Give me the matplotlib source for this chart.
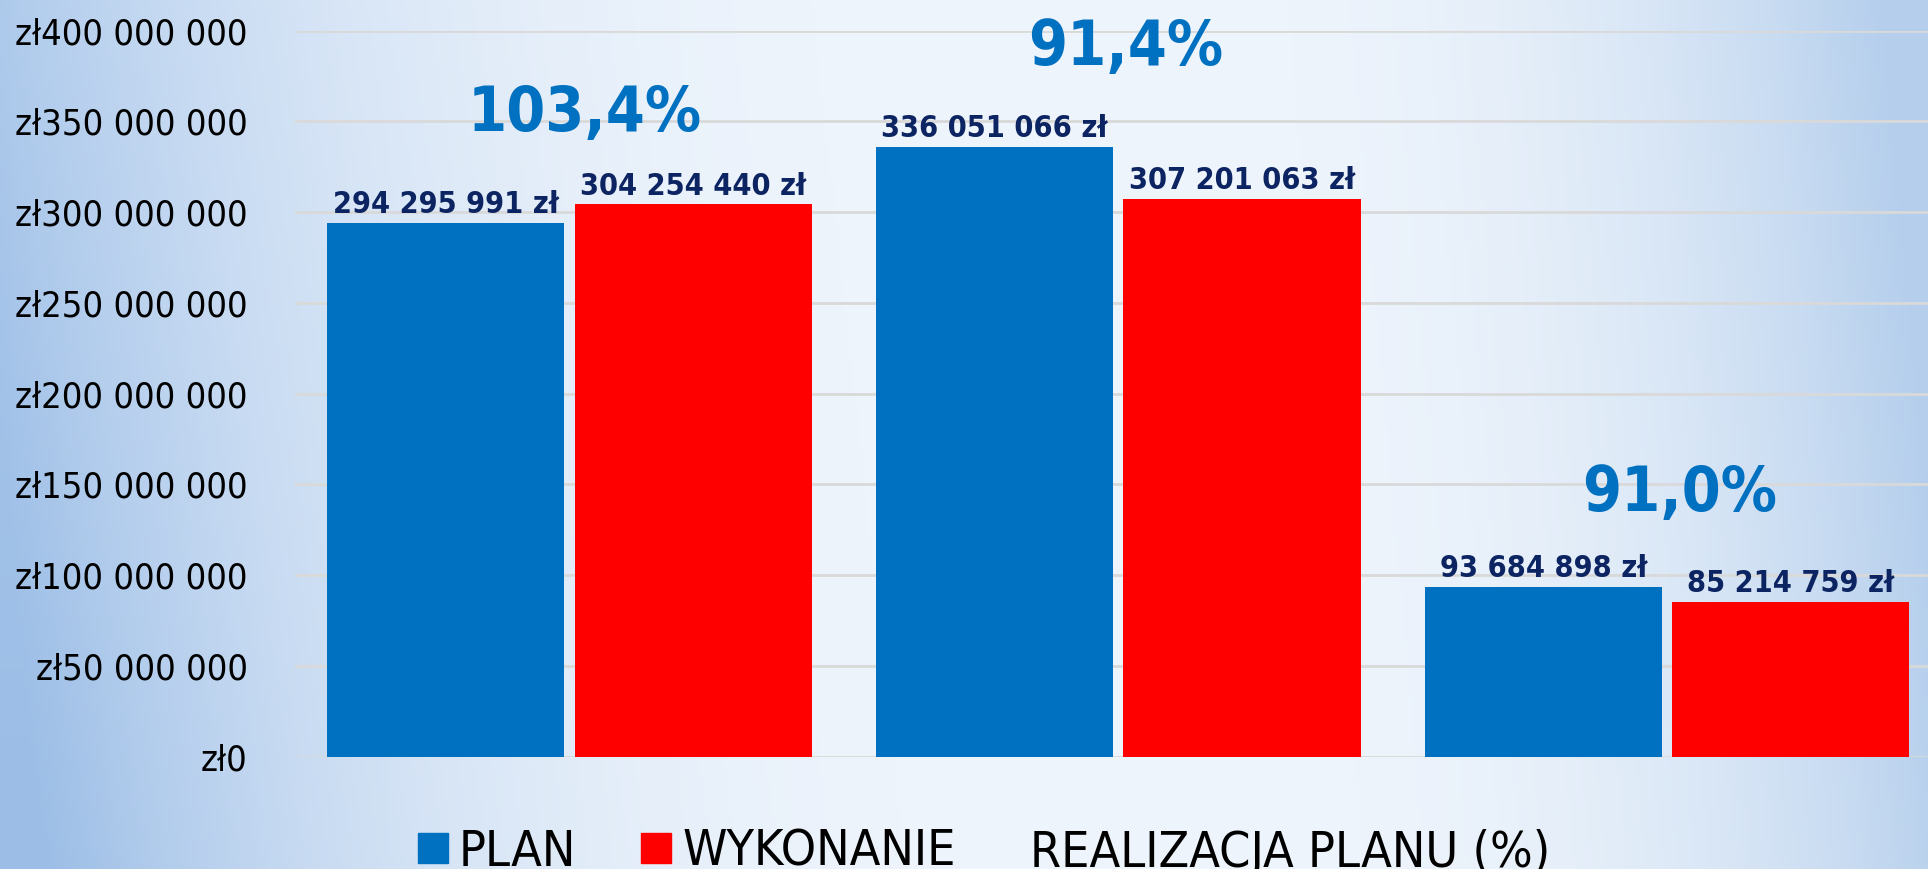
import matplotlib
matplotlib.use("Agg")
import matplotlib.pyplot as plt
import numpy as np
from matplotlib import font_manager
from matplotlib.patches import Patch

categories = ["Grupa 1", "Grupa 2", "Grupa 3"]
plan = [294295991, 336051066, 93684898]
wykonanie = [304254440, 307201063, 85214759]
realizacja = [103.4, 91.4, 91.0]
yticks = [0, 50e6, 100e6, 150e6, 200e6, 250e6, 300e6, 350e6, 400e6]

# where the percentage captions sit (x offset from group centre, y in zł)
pct_pos = [(0.027, 345e6), (0.013, 381e6), (0.023, 135.5e6)]

BLUE = "#0070C0"
RED = "#FF0000"
NAVY = "#0C2461"

fonts = font_manager.fontManager.ttflist
has_cond = any(f.name == "DejaVu Sans" and f.stretch == "condensed" for f in fonts)
stretch = "condensed" if has_cond else "normal"
k = 1.0 if has_cond else 0.9

fig = plt.figure(figsize=(19.28, 8.69), dpi=100)

# background gradient
H, W = 200, 400
xs = np.linspace(0, 1, W)[None, :]
ys = np.linspace(0, 1, H)[:, None]
cx = 0.58
xe = xs - 0.04 * (ys - 0.5)
d = np.where(xe < cx, (cx - xe) / cx, (xe - cx) / (1 - cx))
d = np.clip(d, 0, 1)
left_edge = np.array([168, 198, 234]) * (1 - ys[..., None]) + np.array([155, 189, 230]) * ys[..., None]
right_edge = np.array([180, 206, 236])
center = np.array([239, 245, 252])
edge = np.where((xe < cx)[..., None], left_edge, right_edge)
f = d[..., None] ** 2.7
img = (center + (edge - center) * f) / 255.0
bg = fig.add_axes([0, 0, 1, 1], zorder=-10)
bg.imshow(np.clip(img, 0, 1), aspect="auto", extent=[0, 1, 0, 1])
bg.axis("off")

ax = fig.add_axes([295 / 1928, 112.3 / 869, (1941.5 - 295) / 1928, 726 / 869])
ax.patch.set_alpha(0)

x = np.arange(len(categories))
w = 0.432
off = 0.2255
ax.bar(x - off, plan, w, color=BLUE, zorder=3, label="PLAN")
ax.bar(x + off, wykonanie, w, color=RED, zorder=3, label="WYKONANIE")

ax.set_xlim(-0.5, 2.5)
ax.set_ylim(0, 400e6)
ax.set_yticks(yticks)
ax.set_yticklabels(["zł" + f"{v:,.0f}".replace(",", " ") for v in yticks],
                   fontsize=26 * k, fontstretch=stretch)
ax.tick_params(axis="y", length=0, pad=34)
ax.set_xticks([])
ax.grid(axis="y", color="#D9D9D9", linewidth=2, zorder=0)
for s in ax.spines.values():
    s.set_visible(False)

def money(v):
    return f"{v:,}".replace(",", " ") + " zł"

for xi, p, r in zip(x, plan, wykonanie):
    ax.annotate(money(p), (xi - off, p), xytext=(0, 7), textcoords="offset points",
                ha="center", va="baseline", fontsize=22 * k, fontweight="bold",
                fontstretch=stretch, color=NAVY)
    ax.annotate(money(r), (xi + off, r), xytext=(0, 7), textcoords="offset points",
                ha="center", va="baseline", fontsize=22 * k, fontweight="bold",
                fontstretch=stretch, color=NAVY)

for xi, pct, (dx, yy) in zip(x, realizacja, pct_pos):
    ax.text(xi + dx, yy, f"{pct:.1f}%".replace(".", ","), ha="center", va="baseline",
            fontsize=45 * k, fontweight="bold", fontstretch=stretch, color=BLUE,
            clip_on=False)

leg_font = {"size": 36 * k, "stretch": stretch}
handles = [Patch(color=BLUE), Patch(color=RED)]
fig.legend(handles, ["PLAN", "WYKONANIE"], loc="upper left",
           bbox_to_anchor=(418 / 1928, 1 - 828 / 869), ncol=2, frameon=False,
           prop=leg_font, handlelength=0.6, handleheight=0.55,
           handletextpad=0.22, columnspacing=1.3, borderpad=0, borderaxespad=0)
fig.text(1030 / 1928, 1 - 867 / 869, "REALIZACJA PLANU (%)", ha="left", va="baseline",
         fontsize=36 * k, fontstretch=stretch)

fig.savefig("out.png", dpi=100)
